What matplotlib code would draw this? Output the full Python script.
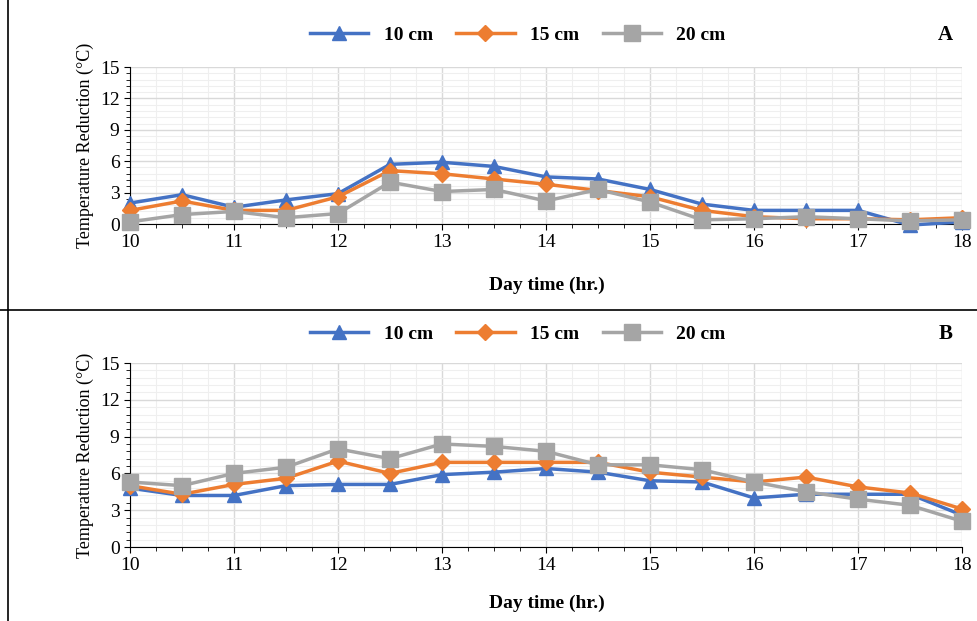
import matplotlib
matplotlib.use("Agg")
import matplotlib.pyplot as plt
import numpy as np
from matplotlib.ticker import MultipleLocator

plt.rcParams['font.family'] = ['Liberation Serif', 'DejaVu Serif']

hours = [10, 10.5, 11, 11.5, 12, 12.5, 13, 13.5, 14, 14.5, 15, 15.5, 16, 16.5, 17, 17.5, 18]
a_10 = [2.0, 2.8, 1.6, 2.3, 2.9, 5.7, 5.9, 5.5, 4.5, 4.3, 3.3, 1.9, 1.3, 1.3, 1.3, -0.1, 0.2]
a_15 = [1.3, 2.2, 1.3, 1.3, 2.6, 5.1, 4.8, 4.3, 3.8, 3.2, 2.6, 1.3, 0.7, 0.5, 0.5, 0.4, 0.6]
a_20 = [0.2, 0.9, 1.2, 0.6, 1.0, 4.0, 3.1, 3.3, 2.2, 3.3, 2.1, 0.4, 0.5, 0.7, 0.5, 0.3, 0.4]
b_10 = [4.8, 4.2, 4.2, 5.0, 5.1, 5.1, 5.9, 6.1, 6.4, 6.1, 5.4, 5.3, 4.0, 4.3, 4.3, 4.3, 2.6]
b_15 = [5.0, 4.3, 5.1, 5.6, 7.0, 6.0, 6.9, 6.9, 6.9, 6.9, 6.1, 5.7, 5.3, 5.7, 4.9, 4.4, 3.1]
b_20 = [5.3, 5.0, 6.0, 6.5, 8.0, 7.2, 8.4, 8.2, 7.8, 6.7, 6.7, 6.3, 5.3, 4.5, 3.9, 3.4, 2.1]
labels = ['10 cm', '15 cm', '20 cm']
colors = ['#4472C4', '#ED7D31', '#A5A5A5']
markers = ['^', 'D', 's']
msizes = [10, 8, 11]

W, H = 977, 621
fig = plt.figure(figsize=(W/100, H/100), dpi=100)

def panel(rect, series, letter, legend_y, xlabel_y):
    ax = fig.add_axes(rect)
    for s, lab, c, m, ms in zip(series, labels, colors, markers, msizes):
        ax.plot(hours, s, color=c, marker=m, markersize=ms, lw=2.5, label=lab, clip_on=False, zorder=3)
    ax.set_xlim(10, 18)
    ax.set_ylim(0, 15)
    ax.xaxis.set_major_locator(MultipleLocator(1))
    ax.xaxis.set_minor_locator(MultipleLocator(0.25))
    ax.yaxis.set_major_locator(MultipleLocator(3))
    ax.yaxis.set_minor_locator(MultipleLocator(0.6))
    ax.grid(which='major', color='#d9d9d9', lw=1)
    ax.grid(which='minor', color='#efefef', lw=0.8)
    for sp in ['top', 'right']:
        ax.spines[sp].set_visible(False)
    ax.tick_params(labelsize=14, length=4)
    ax.tick_params(which='minor', length=3)
    ax.set_ylabel('Temperature Reduction (°C)', fontsize=13)
    fig.text(0.56, xlabel_y, 'Day time (hr.)', ha='center', fontsize=14, fontweight='bold')
    fig.legend(loc='center', bbox_to_anchor=(0.53, legend_y), ncol=3, frameon=False,
               fontsize=14, handlelength=3, columnspacing=1.2, prop={'size': 14, 'weight': 'bold'},
               handles=ax.get_lines())
    fig.text(0.975, legend_y, letter, ha='right', va='center', fontsize=15, fontweight='bold')
    return ax

panel([130/W, 1-224/H, 832/W, 157/H], [a_10, a_15, a_20], 'A', 1-35/H, 1-290/H)
panel([130/W, 1-547/H, 832/W, 184/H], [b_10, b_15, b_20], 'B', 1-334/H, 1-608/H)

# frame lines
fig.add_artist(plt.Line2D([8/W, 8/W], [0, 1], color='black', lw=1.2, transform=fig.transFigure))
fig.add_artist(plt.Line2D([0, 1], [1-310/H, 1-310/H], color='black', lw=1.2, transform=fig.transFigure))

fig.savefig('out.png', dpi=100)
